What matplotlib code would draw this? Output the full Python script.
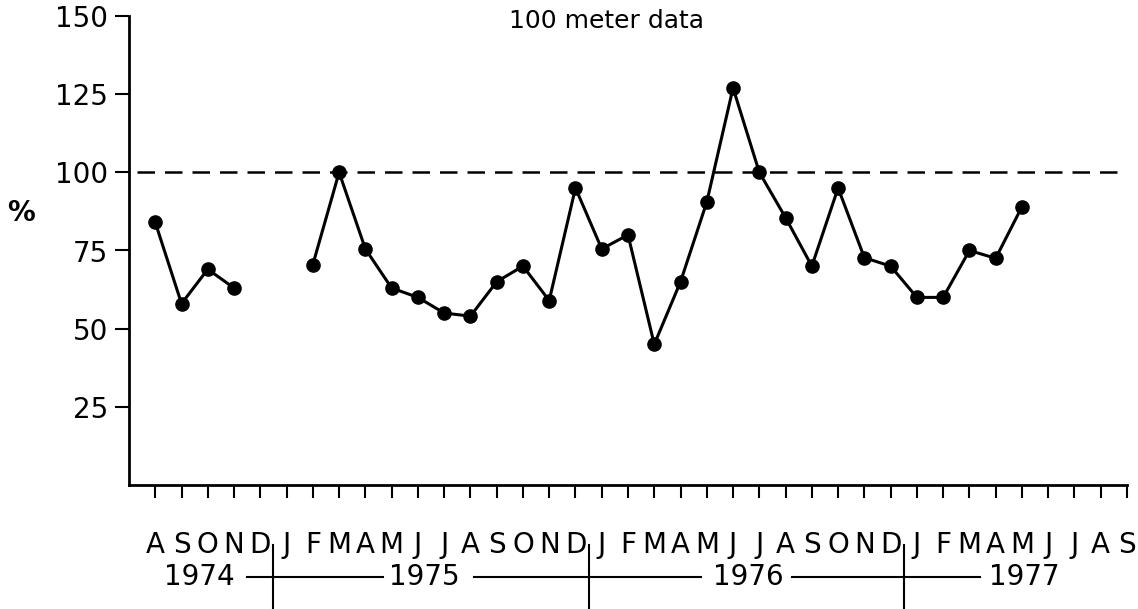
import numpy as np
import matplotlib
matplotlib.use("Agg")
import matplotlib.pyplot as plt
import matplotlib.transforms as mtransforms

# Monthly values, Aug 1974 .. Sep 1977 (nan = no data)
months = ['A', 'S', 'O', 'N', 'D',
          'J', 'F', 'M', 'A', 'M', 'J', 'J', 'A', 'S', 'O', 'N', 'D',
          'J', 'F', 'M', 'A', 'M', 'J', 'J', 'A', 'S', 'O', 'N', 'D',
          'J', 'F', 'M', 'A', 'M', 'J', 'J', 'A', 'S']
values = [84, 58, 69, 63, np.nan,
          np.nan, 70.5, 100, 75.5, 63, 60, 55, 54, 65, 70, 59, 95,
          75.5, 80, 45, 65, 90.5, 127, 100, 85.5, 70, 95, 72.7, 70,
          60, 60, 75, 72.5, 89, np.nan, np.nan, np.nan, np.nan]
years = ['1974', '1975', '1976', '1977']
ref_level = 100
yticks = [25, 50, 75, 100, 125, 150]

plt.rcParams['font.family'] = ['DejaVu Sans']

fig = plt.figure(figsize=(11.38, 6.09), dpi=100)
ax = fig.add_axes([129 / 1138, 1 - 485 / 609, (1127 - 129) / 1138, (485 - 16) / 609])

x = np.arange(len(months))
ax.plot(x, values, color='black', lw=2.2, marker='o', ms=9.5, clip_on=False, zorder=3)

# dashed reference line at 100 %
ax.axhline(ref_level, xmin=0.008, xmax=1, color='black', lw=1.8,
           linestyle=(0, (7, 4)), zorder=2)

ax.set_xlim(-1, len(months) - 1)
ax.set_ylim(0, 150)
ax.spines['top'].set_visible(False)
ax.spines['right'].set_visible(False)
ax.spines['left'].set_linewidth(2)
ax.spines['bottom'].set_linewidth(2)

ax.set_yticks(yticks)
ax.set_yticklabels([str(v) for v in yticks])
ax.tick_params(axis='y', direction='out', length=10, width=1.5, pad=5, labelsize=20)
ax.set_xticks(x)
ax.set_xticklabels(months)
ax.tick_params(axis='x', direction='out', length=9, width=1.5, pad=24, labelsize=20)

ax.text(17.2, 148.5, '100 meter data', ha='center', va='center', fontsize=18)
fig.text(21 / 1138, 1 - 213 / 609, '%', ha='center', va='center', fontsize=20,
         fontweight='bold')

# year row beneath the month letters
trans = mtransforms.blended_transform_factory(ax.transData, ax.transAxes)
year_row = -0.196
year_centers = [1.67, 10.24, 22.57, 33.1]
for name, xc in zip(years, year_centers):
    ax.text(xc, year_row, name, transform=trans, ha='center', va='center',
            fontsize=20, clip_on=False)
segments = [(3.5, 8.68), (12.14, 20.78), (24.25, 31.4)]
for x0, x1 in segments:
    ax.plot([x0, x1], [year_row, year_row], transform=trans, color='black',
            lw=1.5, clip_on=False)
for div in [4.5, 16.5, 28.5]:
    ax.plot([div, div], [-0.128, -0.27], transform=trans, color='black',
            lw=1.5, clip_on=False)

fig.savefig('out.png', dpi=100)
